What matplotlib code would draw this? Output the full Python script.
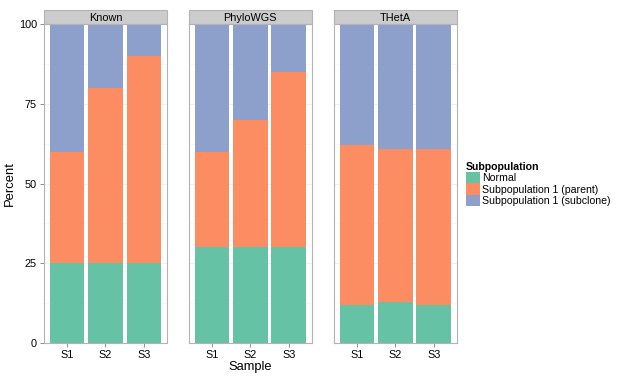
import numpy as np
import matplotlib.pyplot as plt

plt.rcParams['font.family'] = ['Liberation Sans', 'DejaVu Sans']

methods = ["Known", "PhyloWGS", "THetA"]
samples = ["S1", "S2", "S3"]
subpops = ["Normal", "Subpopulation 1 (parent)", "Subpopulation 1 (subclone)"]
colors = ["#66C2A5", "#FC8D62", "#8DA0CB"]

# percent per subpopulation, one row per sample
normal = {"Known": [25, 25, 25], "PhyloWGS": [30, 30, 30], "THetA": [12, 13, 12]}
parent = {"Known": [35, 55, 65], "PhyloWGS": [30, 40, 55], "THetA": [50, 48, 49]}
subclone = {"Known": [40, 20, 10], "PhyloWGS": [40, 30, 15], "THetA": [38, 39, 39]}

fig, axes = plt.subplots(1, 3, figsize=(6.37, 3.77), dpi=100, sharey=True)
fig.subplots_adjust(left=0.069, right=0.717, bottom=0.09, top=0.936, wspace=0.179)

x = np.arange(1, len(samples) + 1)
for ax, m in zip(axes, methods):
    bottom = np.zeros(len(samples))
    for vals, c, lab in zip([normal[m], parent[m], subclone[m]], colors, subpops):
        ax.bar(x, vals, width=0.9, bottom=bottom, color=c, label=lab, zorder=2)
        bottom += np.array(vals)
    ax.set_xlim(0.4, 3.6)
    ax.set_ylim(0, 100)
    ax.set_xticks(x)
    ax.set_xticklabels(samples)
    ax.set_yticks([0, 25, 50, 75, 100])
    ax.set_yticks([12.5, 37.5, 62.5, 87.5], minor=True)
    ax.grid(True, which='major', color='#EBEBEB', lw=0.5, zorder=0)
    ax.grid(True, which='minor', axis='y', color='#F5F5F5', lw=0.5, zorder=0)
    for s in ax.spines.values():
        s.set_color('#B3B3B3')
        s.set_linewidth(0.8)
    ax.tick_params(axis='both', which='major', color='#7F7F7F', length=3, width=0.6,
                   labelsize=7.8, labelcolor='black', pad=2)
    ax.tick_params(axis='y', which='minor', length=0)
    ax.set_title(m, fontsize=7.8, pad=2.5)
    # strip
    ax.add_patch(plt.Rectangle((0, 1.0), 1, 14 / 319, transform=ax.transAxes,
                               facecolor='#CCCCCC', edgecolor='#B3B3B3', lw=0.8,
                               clip_on=False, zorder=1))
    ax.title.set_zorder(3)

for ax in axes[1:]:
    ax.tick_params(axis='y', which='both', length=0)

axes[0].set_ylabel("Percent", fontsize=9.4, labelpad=2)
axes[1].set_xlabel("Sample", fontsize=9.3, labelpad=1)

handles, labels = axes[0].get_legend_handles_labels()
leg = fig.legend(handles, labels, title="Subpopulation", loc='center left',
                 bbox_to_anchor=(0.731, 0.512), frameon=False, fontsize=7.6,
                 title_fontsize=7.6, handlelength=1.33, handleheight=1.24,
                 handletextpad=0.2, labelspacing=0.0, borderaxespad=0,
                 borderpad=0)
leg.get_title().set_fontweight('bold')
leg._legend_box.align = "left"

fig.savefig("out.png", dpi=100)
